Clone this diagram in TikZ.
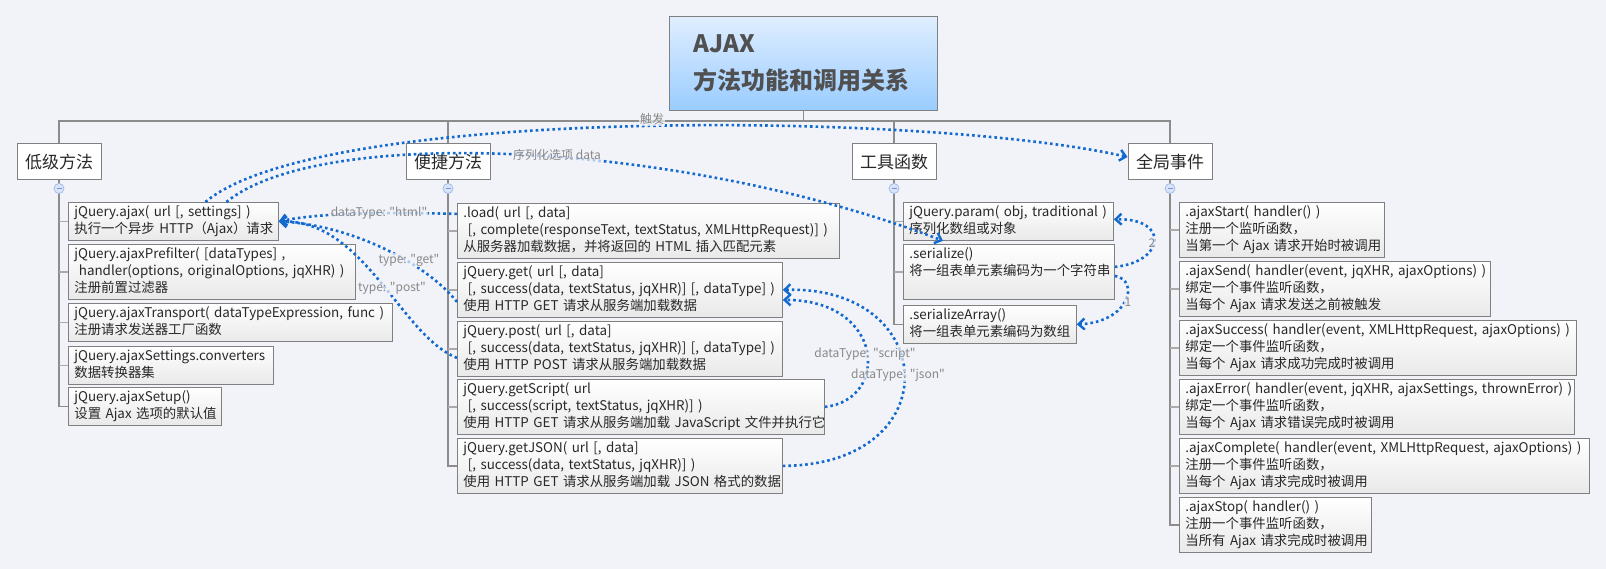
\documentclass[tikz,border=0pt]{standalone}
\usepackage{fontspec}
\setmainfont{Noto Sans CJK SC}[Ligatures=TeXOff]
\usetikzlibrary{arrows.meta}
\definecolor{bg}{RGB}{242,243,248}
\definecolor{lk}{RGB}{18,106,208}
\definecolor{tx}{RGB}{40,40,40}
\definecolor{lb}{RGB}{136,136,136}
\definecolor{ln}{RGB}{140,140,140}
\definecolor{bd}{RGB}{128,128,128}
\definecolor{sb}{RGB}{170,170,170}
\definecolor{rtop}{RGB}{224,238,255}
\definecolor{rbot}{RGB}{153,204,255}
\definecolor{ibot}{RGB}{233,233,233}
\definecolor{rtx}{RGB}{80,80,80}
\definecolor{fdr}{RGB}{160,185,230}
\definecolor{ffl}{RGB}{215,228,250}
\definecolor{fmn}{RGB}{120,150,210}
\newcommand\tb[1]{\begin{tabular}{@{}l@{}}#1\end{tabular}}
\tikzset{
 topic/.style={draw=bd, line width=1pt, fill=white, text=tx, font=\fontsize{17}{20}\selectfont, minimum width=84pt, minimum height=36pt, inner sep=0pt},
 item/.style={draw=bd, line width=0.8pt, top color=white, bottom color=ibot, text=tx, font=\fontsize{13.4}{17}\selectfont, align=left, anchor=north west, inner xsep=6pt, inner ysep=2pt},
 tree/.style={draw=ln, line width=1.3pt},
 stub/.style={draw=sb, line width=1.3pt},
 link/.style={draw=lk, line width=2.6pt, dash pattern=on 2.6pt off 3pt, -{Straight Barb[length=6pt,width=11pt,line width=2.4pt]}},
 lbl/.style={text=lb, font=\fontsize{12}{14}\selectfont, fill=bg, fill opacity=0.7, text opacity=1, inner sep=1pt},
 fold/.style={circle, draw=fdr, fill=ffl, minimum size=10pt, inner sep=0pt, line width=0.7pt,
   path picture={\draw[draw=fmn, line width=0.8pt] ([xshift=-2.5pt]path picture bounding box.center) -- ([xshift=2.5pt]path picture bounding box.center);}}
}
\begin{document}
\begin{tikzpicture}[x=1pt,y=-1pt]
\fill[bg] (0,0) rectangle (1606,569);
\useasboundingbox (0,0) rectangle (1606,569);

% root
\node[draw=bd, line width=1pt, top color=rtop, bottom color=rbot, anchor=north west,
  minimum height=94pt, text width=220pt, inner xsep=24pt, align=left, text=rtx,
  font=\bfseries\fontsize{24}{37}\selectfont] (root) at (669,16) {AJAX\\方法功能和调用关系};

% topics
\node[topic] (low) at (59,162) {低级方法};
\node[topic] (conv) at (448,162) {便捷方法};
\node[topic] (tool) at (894,162) {工具函数};
\node[topic] (evt) at (1170,162) {全局事件};

% low level
\node[item, text width=198pt] (ajax) at (68,202) {\tb{jQuery.ajax( url [, settings] )\\执行一个异步 HTTP（Ajax）请求}};
\node[item, text width=275pt] (pre) at (68,244) {\tb{jQuery.ajaxPrefilter( [dataTypes] ,\\\ handler(options, originalOptions, jqXHR) )\\注册前置过滤器}};
\node[item, text width=312pt] (trans) at (68,303) {\tb{jQuery.ajaxTransport( dataTypeExpression, func )\\注册请求发送器工厂函数}};
\node[item, text width=193pt] (convt) at (68,346) {\tb{jQuery.ajaxSettings.converters\\数据转换器集}};
\node[item, text width=141pt] (setup) at (68,387) {\tb{jQuery.ajaxSetup()\\设置 Ajax 选项的默认值}};

% convenience
\node[item, text width=370pt] (load) at (457,203) {\tb{.load( url [, data]\\\ [, complete(responseText, textStatus, XMLHttpRequest)] )\\从服务器加载数据，并将返回的 HTML 插入匹配元素}};
\node[item, text width=313pt] (get) at (457,262) {\tb{jQuery.get( url [, data]\\\ [, success(data, textStatus, jqXHR)] [, dataType] )\\使用 HTTP GET 请求从服务端加载数据}};
\node[item, text width=313pt] (post) at (457,321) {\tb{jQuery.post( url [, data]\\\ [, success(data, textStatus, jqXHR)] [, dataType] )\\使用 HTTP POST 请求从服务端加载数据}};
\node[item, text width=355pt] (gs) at (457,379) {\tb{jQuery.getScript( url\\\ [, success(script, textStatus, jqXHR)] )\\使用 HTTP GET 请求从服务端加载 JavaScript 文件并执行它}};
\node[item, text width=313pt] (gj) at (457,438) {\tb{jQuery.getJSON( url [, data]\\\ [, success(data, textStatus, jqXHR)] )\\使用 HTTP GET 请求从服务端加载 JSON 格式的数据}};

% tools
\node[item, text width=198pt] (param) at (903,202) {\tb{jQuery.param( obj, traditional )\\序列化数组或对象}};
\node[item, text width=199pt] (ser) at (903,244) {\tb{.serialize()\\将一组表单元素编码为一个字符串\\\ }};
\node[item, text width=161pt] (sa) at (903,305) {\tb{.serializeArray()\\将一组表单元素编码为数组}};

% events
\node[item, text width=193pt] (start) at (1179,202) {\tb{.ajaxStart( handler() )\\注册一个监听函数，\\当第一个 Ajax 请求开始时被调用}};
\node[item, text width=299pt] (send) at (1179,261) {\tb{.ajaxSend( handler(event, jqXHR, ajaxOptions) )\\绑定一个事件监听函数，\\当每个 Ajax 请求发送之前被触发}};
\node[item, text width=385pt] (succ) at (1179,320) {\tb{.ajaxSuccess( handler(event, XMLHttpRequest, ajaxOptions) )\\绑定一个事件监听函数，\\当每个 Ajax 请求成功完成时被调用}};
\node[item, text width=383pt] (err) at (1179,379) {\tb{.ajaxError( handler(event, jqXHR, ajaxSettings, thrownError) )\\绑定一个事件监听函数，\\当每个 Ajax 请求错误完成时被调用}};
\node[item, text width=398pt] (comp) at (1179,438) {\tb{.ajaxComplete( handler(event, XMLHttpRequest, ajaxOptions) )\\注册一个事件监听函数，\\当每个 Ajax 请求完成时被调用}};
\node[item, text width=180pt] (stop) at (1179,497) {\tb{.ajaxStop( handler() )\\注册一个事件监听函数，\\当所有 Ajax 请求完成时被调用}};

% tree lines
\draw[tree] (root.south) -- ++(0,10) coordinate (j);
\draw[tree] (low.north) -- (low.north |- j) -- (evt.north |- j) -- (evt.north);
\draw[tree] (conv.north) -- (conv.north |- j);
\draw[tree] (tool.north) -- (tool.north |- j);

\draw[tree] (low.south) |- (setup.west);
\foreach \n in {ajax,pre,trans,convt} \draw[stub] (\n.west) -- (\n.west -| low.south);
\draw[tree] (conv.south) |- (gj.west);
\foreach \n in {load,get,post,gs} \draw[stub] (\n.west) -- (\n.west -| conv.south);
\draw[tree] (tool.south) |- (sa.west);
\foreach \n in {param,ser} \draw[stub] (\n.west) -- (\n.west -| tool.south);
\draw[tree] (evt.south) |- (stop.west);
\foreach \n in {start,send,succ,err,comp} \draw[stub] (\n.west) -- (\n.west -| evt.south);

\node[fold] (f1) at ([yshift=-8pt]low.south) {};
\node[fold] (f2) at ([yshift=-8pt]conv.south) {};
\node[fold] (f3) at ([yshift=-8pt]tool.south) {};
\node[fold] (f4) at ([yshift=-8pt]evt.south) {};

% links
\draw[link] ([xshift=32pt]ajax.north) .. controls (320,105) and (930,112) .. ([yshift=5pt]evt.west);
\draw[link] ([xshift=53pt]ajax.north) .. controls (320,125) and (680,140) .. ([xshift=40pt]param.south west);
\draw[link] ([yshift=17pt]load.west) .. controls (380,212) and (320,213) .. (ajax.east);
\draw[link] ([yshift=-12pt]get.west) .. controls (425,262) and (350,225) .. (ajax.east);
\draw[link] ([yshift=-9pt]post.west) .. controls (400,335) and (365,220) .. (ajax.east);
\draw[link] (gs.east) .. controls (890,400) and (885,300) .. ([yshift=-10pt]get.east);
\draw[link] (gj.east) .. controls (950,465) and (940,285) .. (get.east);
\draw[link] ([yshift=5pt]ser.east) .. controls (1165,262) and (1170,218) .. ([yshift=2pt]param.east);
\draw[link] ([yshift=-4pt]ser.east) .. controls (1140,280) and (1130,322) .. (sa.east);

% labels
\node[lbl] (l1) at (652,119) {触发};
\node[lbl] (l2) at (557,155) {序列化选项 data};
\node[lbl] (l3) at (379,213) {dataType: "html"};
\node[lbl] (l4) at (409,260) {type: "get"};
\node[lbl] (l5) at (392,288) {type: "post"};
\node[lbl] (l6) at (865,354) {dataType: "script"};
\node[lbl] (l7) at (898,375) {dataType: "json"};
\node[lbl] (l8) at (1152,243) {2};
\node[lbl] (l9) at (1128,302) {1};
\end{tikzpicture}
\end{document}
